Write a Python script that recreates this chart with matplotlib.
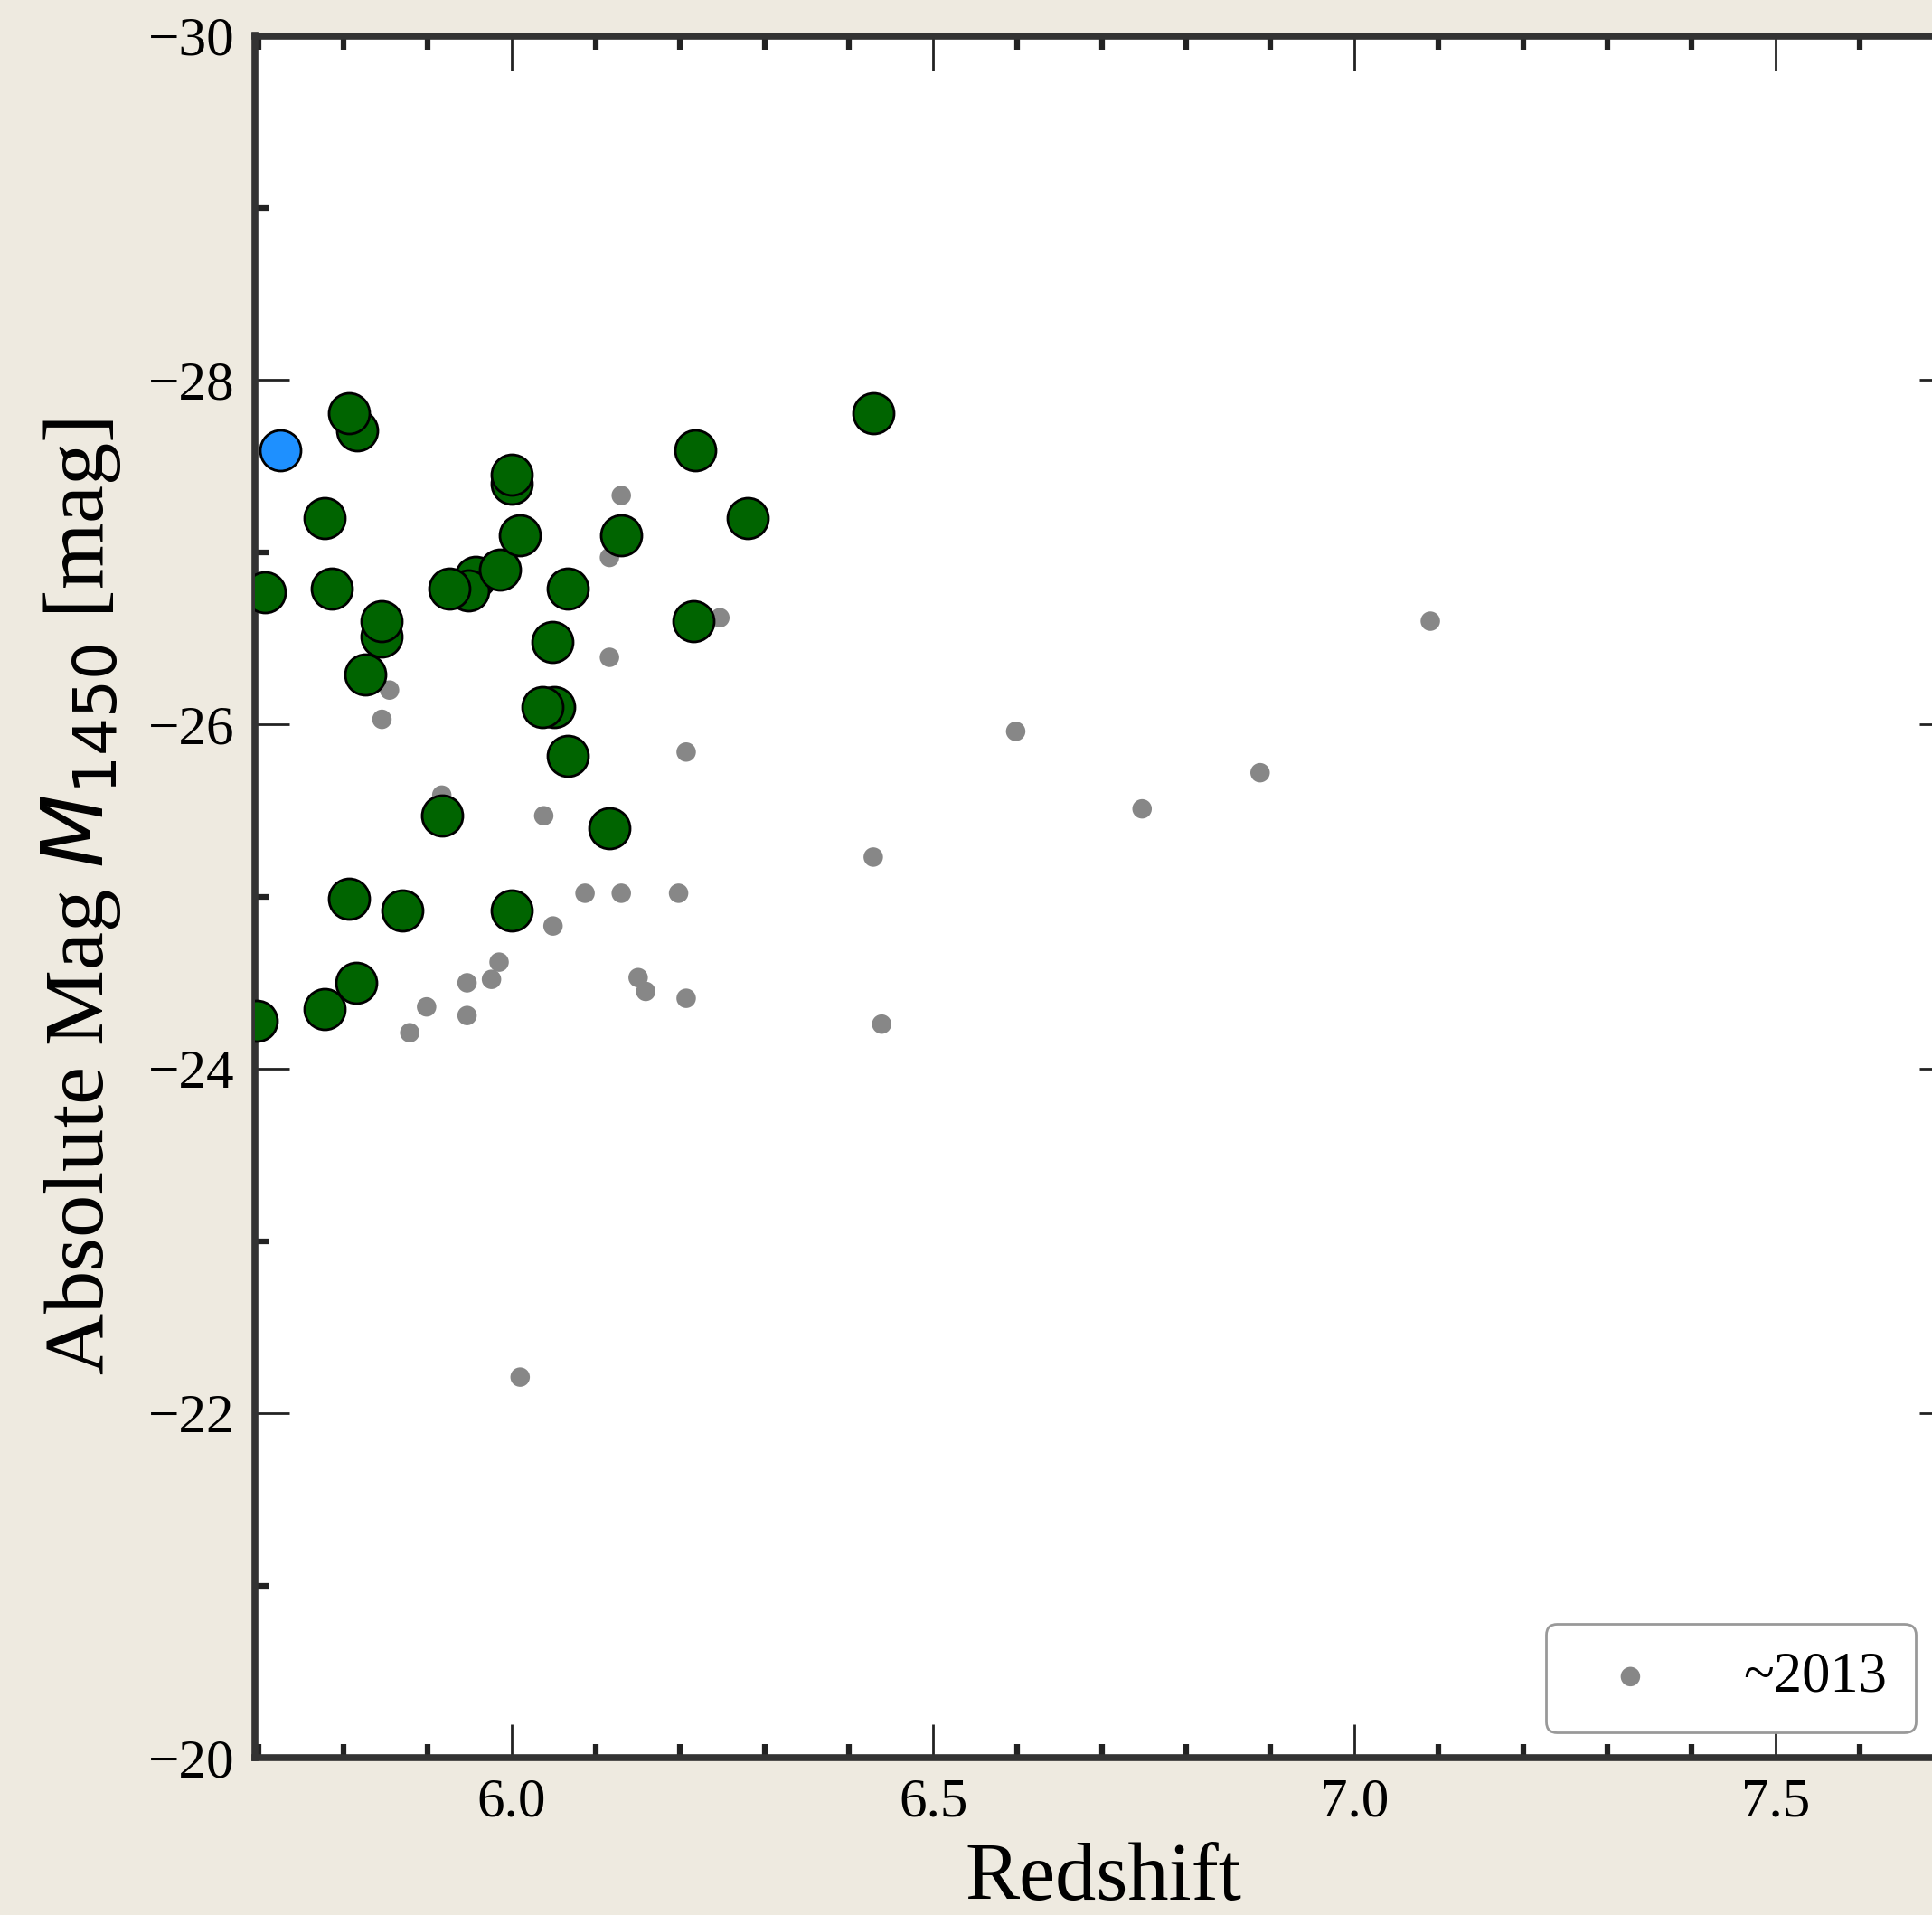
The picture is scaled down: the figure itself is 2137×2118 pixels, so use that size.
import matplotlib
matplotlib.use("Agg")
import matplotlib.pyplot as plt
from matplotlib.ticker import MultipleLocator

# newly selected quasars (redshift, M1450)
z_new = [5.817, 5.807, 5.778, 5.707, 5.787, 5.846, 5.846, 5.826,
         6.000, 6.000, 5.957, 5.948, 5.926, 5.986, 6.010, 6.067,
         6.048, 6.050, 6.037, 6.067, 6.130, 6.218, 6.216, 5.917,
         6.116, 6.429, 6.280, 5.807, 5.870, 6.000, 5.778, 5.816, 5.698]
m_new = [-27.71, -27.81, -27.20, -26.77, -26.79, -26.51, -26.60, -26.29,
         -27.40, -27.45, -26.86, -26.78, -26.79, -26.90, -27.10, -26.79,
         -26.48, -26.10, -26.10, -25.82, -27.10, -27.59, -26.60, -25.47,
         -25.40, -27.81, -27.20, -24.99, -24.92, -24.92, -24.35, -24.50, -24.28]

# highlighted object
z_hl = [5.725]
m_hl = [-27.59]

# sample known by ~2013
z_2013 = [6.130, 6.116, 6.116, 5.855, 5.846, 6.207, 5.917, 6.038, 6.087, 6.130,
          6.198, 6.049, 5.985, 5.976, 5.947, 5.899, 5.879, 5.947, 6.150, 6.159,
          6.207, 6.247, 6.598, 6.429, 6.439, 6.748, 6.888, 7.090, 6.010]
m_2013 = [-27.33, -26.97, -26.39, -26.20, -26.03, -25.84, -25.59, -25.47, -25.02, -25.02,
          -25.02, -24.83, -24.62, -24.52, -24.50, -24.36, -24.21, -24.31, -24.53, -24.45,
          -24.41, -26.62, -25.96, -25.23, -24.26, -25.51, -25.72, -26.60, -22.21]

plt.rcParams["font.family"] = ["Liberation Serif", "DejaVu Serif"]
plt.rcParams["axes.unicode_minus"] = True

W, H = 2137, 2118
fig = plt.figure(figsize=(W / 100, H / 100), dpi=100, facecolor="#EEEAE0")
ax = fig.add_axes([281.7 / W, 1 - 1944 / H, (2160 - 281.7) / W, (1944 - 39.5) / H])
ax.set_facecolor("white")

ax.scatter(z_2013, m_2013, s=240, color="#878787", edgecolor="none", zorder=2, label="~2013")
ax.scatter(z_new, m_new, s=1050, color="#006400", edgecolor="black", linewidth=2, zorder=3)
ax.scatter(z_hl, m_hl, s=1050, color="#1E90FF", edgecolor="black", linewidth=2, zorder=4)

ax.set_xlim(5.695, 7.71)
ax.set_ylim(-20, -30)
ax.xaxis.set_major_locator(MultipleLocator(0.5))
ax.xaxis.set_minor_locator(MultipleLocator(0.1))
ax.yaxis.set_major_locator(MultipleLocator(2))
ax.yaxis.set_minor_locator(MultipleLocator(1))

ax.tick_params(which="both", direction="in", top=True, right=True, color="#222222")
ax.tick_params(which="major", length=27, width=2, labelsize=44, pad=16)
ax.tick_params(which="minor", length=11, width=4.5)
for sp in ax.spines.values():
    sp.set_linewidth(5.5)
    sp.set_color("#333333")

ax.set_xlabel("Redshift", fontsize=65, labelpad=11)
ax.set_ylabel(r"Absolute Mag $M_{1450}$ [mag]", fontsize=68, labelpad=20)

leg = ax.legend(loc="lower right", bbox_to_anchor=(0.978, 0.0147), borderaxespad=0,
                fontsize=45, borderpad=0.5, handletextpad=1.0, fancybox=True, framealpha=1)
leg.get_frame().set_edgecolor("#999999")
leg.get_frame().set_linewidth(2)

fig.savefig("out.png", dpi=100, facecolor=fig.get_facecolor())
